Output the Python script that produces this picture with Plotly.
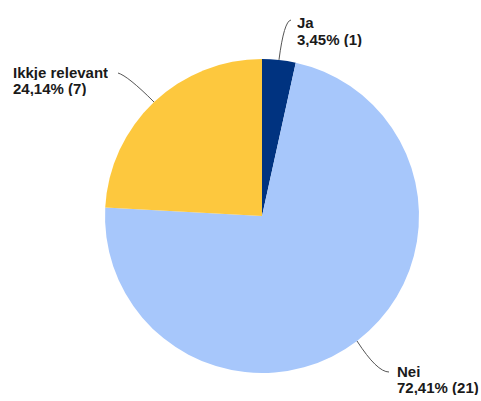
import math
import plotly.graph_objects as go

labels = ["Ja", "Nei", "Ikkje relevant"]
values = [1, 21, 7]
colors = ["#003380", "#a7c7fb", "#fdc83e"]

W, H = 481, 401
cx, cy, R = 262, 216, 157  # pie centre / radius in pixels

total = sum(values)

fig = go.Figure(go.Pie(
    labels=labels, values=values, sort=False, direction="clockwise", rotation=0,
    marker=dict(colors=colors, line=dict(width=0)),
    textinfo="none", hoverinfo="label+value+percent", showlegend=False,
    domain=dict(x=[(cx - R) / W, (cx + R) / W], y=[1 - (cy + R) / H, 1 - (cy - R) / H]),
))

# leader-line control point, line end, text left x and line-centre y's
label_cfg = {
    "Ja": dict(ctrl=(284, 21), end=(291, 20), tx=296, ty=(23, 39)),
    "Nei": dict(ctrl=(377, 372), end=(389, 372), tx=396, ty=(371, 387)),
    "Ikkje relevant": dict(ctrl=(128, 76), end=(118, 73), tx=12, ty=(72, 88)),
}


def px(x):
    return x / W


def py(y):
    return 1 - y / H


cum = 0
shapes, annotations = [], []
for lab, v in zip(labels, values):
    mid = (cum + v / 2) / total * 2 * math.pi
    cum += v
    ex = cx + R * math.sin(mid)
    ey = cy - R * math.cos(mid)
    cfg = label_cfg[lab]
    (bx, by), (fx, fy) = cfg["ctrl"], cfg["end"]
    path = f"M {px(ex)},{py(ey)} Q {px(bx)},{py(by)} {px(fx)},{py(fy)}"
    shapes.append(dict(type="path", xref="paper", yref="paper", path=path,
                       line=dict(color="#555555", width=1)))
    pct = f"{v / total * 100:.2f}".replace(".", ",")
    for line_text, yy in zip([lab, f"{pct}% ({v})"], cfg["ty"]):
        annotations.append(dict(
            xref="paper", yref="paper", x=px(cfg["tx"]), y=py(yy),
            xanchor="left", yanchor="middle", align="left", valign="middle",
            height=15, borderpad=0, showarrow=False,
            text=f"<b>{line_text}</b>",
            font=dict(family="Liberation Sans", size=15, color="#1a1a1a"),
        ))

fig.update_layout(
    width=W, height=H, margin=dict(l=0, r=0, t=0, b=0),
    paper_bgcolor="white", plot_bgcolor="white",
    shapes=shapes, annotations=annotations,
)

fig.write_html("out.html", config={"displayModeBar": False},
               post_script="document.body.style.margin='0';")
